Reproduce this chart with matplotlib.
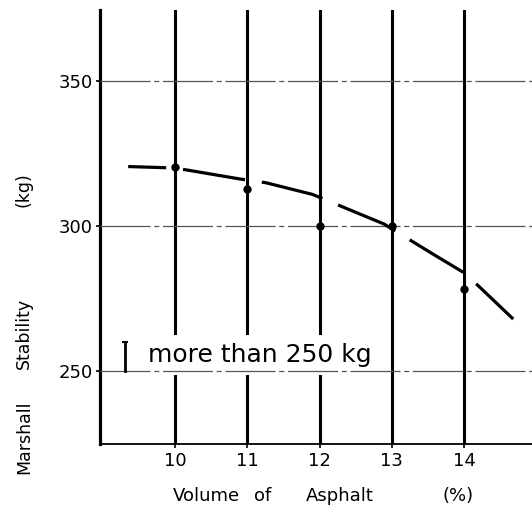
import matplotlib
matplotlib.use("Agg")
import matplotlib.pyplot as plt

# data
grid_x = [10, 11, 12, 13, 14]
grid_y = [250, 300, 350]
point_x = [10, 11, 12, 13, 14]
point_y = [320.3, 312.8, 300.0, 300.0, 278.3]
curve_x = [9.35, 10.0, 10.9, 11.26, 11.9, 12.89, 13.57, 13.99, 14.2, 14.68]
curve_y = [320.5, 320.0, 316.2, 314.9, 310.9, 300.7, 290.3, 284.0, 279.3, 267.9]
limit_x = 9.31
limit_y = [250, 260]
limit_text = "more than 250 kg"

fig = plt.figure(figsize=(5.32, 5.08), dpi=100)
ax = fig.add_axes([100/532, 64/508, 432/532, 434/508])
ax.set_xlim(8.96, 14.94)
ax.set_ylim(224.8, 374.5)

# thick vertical lines
for gx in grid_x:
    ax.axvline(gx, color="black", lw=2.2, zorder=1)

# thin horizontal lines
for gy in grid_y:
    ax.axhline(gy, color="#555555", lw=0.9, ls=(0, (40, 3, 4, 3)), zorder=3)

# curve + points (long dashes, gaps near the grid lines)
ax.plot(curve_x, curve_y, color="black", lw=2.3, ls=(7.8, (19.7, 5.3)),
        dash_capstyle="butt", zorder=4)
ax.plot(point_x, point_y, "o", color="black", ms=5, zorder=5)

# limit annotation
ax.plot([limit_x, limit_x], limit_y, color="black", lw=2.0, zorder=4)
ax.plot([limit_x], [limit_y[1]], marker="_", color="black", ms=5, mew=1.5, zorder=4)
ax.text(9.63, 253.1, limit_text, fontsize=18, ha="left", va="baseline",
        zorder=2, bbox=dict(facecolor="white", edgecolor="none", pad=5.5))

for s in ["top", "right"]:
    ax.spines[s].set_visible(False)
ax.spines["left"].set_linewidth(2.3)
ax.spines["bottom"].set_linewidth(1.3)

ax.set_xticks(grid_x)
ax.set_yticks(grid_y)
ax.tick_params(axis="both", direction="out", length=3, width=1.2, labelsize=13, pad=3)
ax.tick_params(axis="y", pad=2)

# axis labels, word by word as in the original
fig.text(206/532, 1 - 496/508, "Volume", fontsize=13, ha="center", va="center")
fig.text(263/532, 1 - 496/508, "of", fontsize=13, ha="center", va="center")
fig.text(340/532, 1 - 496/508, "Asphalt", fontsize=13, ha="center", va="center")
fig.text(458/532, 1 - 496/508, "(%)", fontsize=13, ha="center", va="center")

fig.text(24/532, 1 - 437/508, "Marshall", fontsize=12.5, rotation=90, ha="center", va="center")
fig.text(24/532, 1 - 333/508, "Stability", fontsize=12.5, rotation=90, ha="center", va="center")
fig.text(24/532, 1 - 190/508, "(kg)", fontsize=12.5, rotation=90, ha="center", va="center")

fig.savefig("out.png", dpi=100)
